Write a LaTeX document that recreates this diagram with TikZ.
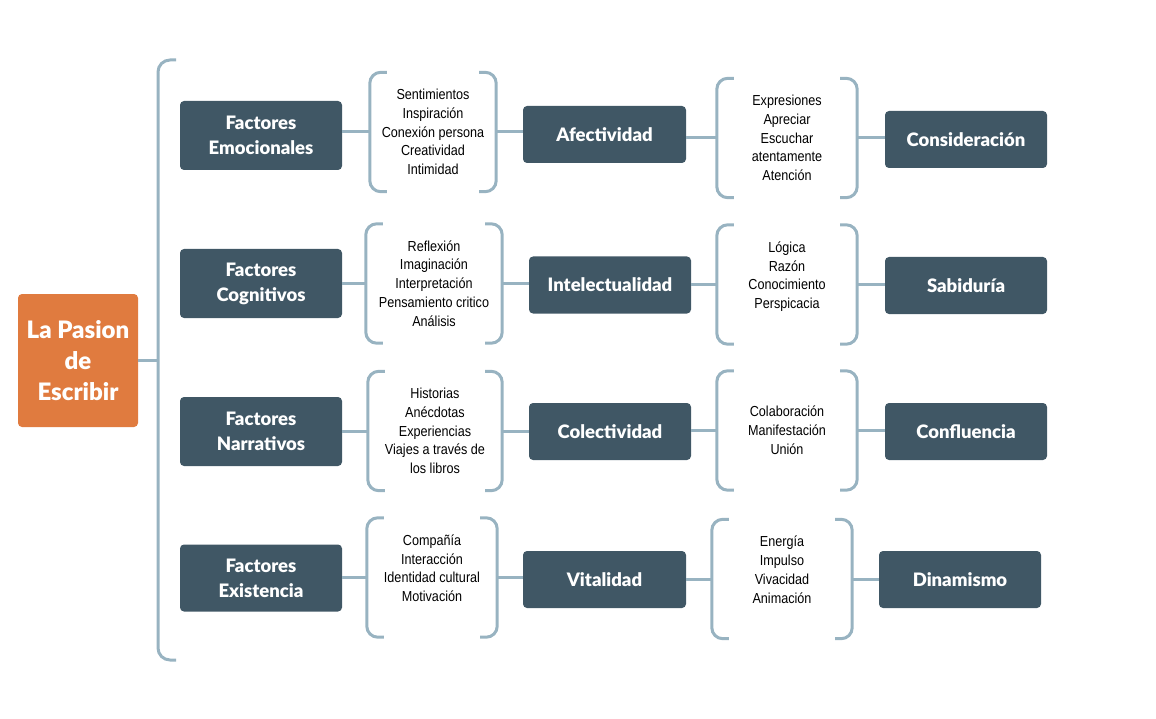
\documentclass[tikz,border=0pt]{standalone}
\usepackage{fontspec}
\setmainfont{Lato}[BoldFont={Lato Black}]
\newfontfamily\itemfont[FakeStretch=0.87]{Liberation Sans}
\usetikzlibrary{positioning}
\definecolor{boxgray}{HTML}{405765}
\definecolor{rootorange}{HTML}{E07B3F}
\definecolor{linkblue}{HTML}{98B3C1}
\tikzset{
	link/.style={draw=linkblue, line width=3pt},
	rootbox/.style={fill=rootorange, text=white, rounded corners=4pt, minimum width=120pt, minimum height=133pt, align=center, font=\bfseries\fontsize{24}{31}\selectfont},
	titlebox/.style={fill=boxgray, text=white, rounded corners=4pt, minimum width=162pt, minimum height=57pt, align=center, font=\bfseries\fontsize{18.5}{25}\selectfont},
	itemlist/.style={minimum height=119pt, inner sep=0pt, align=center, font=\itemfont\fontsize{14.5}{18.8}\selectfont}
}
\newcommand{\drawparens}[1]{%
	\draw[link, rounded corners=11pt] ([xshift=17pt]#1.north west) -- (#1.north west) -- (#1.south west) -- ([xshift=17pt]#1.south west);
	\draw[link, rounded corners=11pt] ([xshift=-17pt]#1.north east) -- (#1.north east) -- (#1.south east) -- ([xshift=-17pt]#1.south east);
}
\begin{document}
\begin{tikzpicture}[x=1pt, y=-1pt]
	\useasboundingbox (0,0) rectangle (1156,719);
	% root and the big brace
	\node[rootbox] (root) at (78,360.5) {La Pasion\\de\\Escribir};
	\coordinate (bracetop) at (158,60);
	\coordinate (bracebot) at (158,660);
	\draw[link, rounded corners=12pt] ([xshift=18pt]bracetop) -- (bracetop) -- (bracebot) -- ([xshift=18pt]bracebot);
	\draw[link] (root.east) -- (root.east -| bracetop);
	% factores
	\node[titlebox, minimum height=69pt] (fac1) at (261,135.5) {Factores\\Emocionales};
	\node[titlebox, minimum height=69pt] (fac2) at (261,283.5) {Factores\\Cognitivos};
	\node[titlebox, minimum height=69pt] (fac3) at (261,431.5) {Factores\\Narrativos};
	\node[titlebox, minimum height=67pt] (fac4) at (261,578) {Factores\\Existencia};
	% first lists
	\node[itemlist, minimum width=126pt] (lista1) at (433,132) {Sentimientos\\Inspiración\\Conexión persona\\Creatividad\\Intimidad};
	\node[itemlist, minimum width=136pt] (lista2) at (434,283.5) {Reflexión\\Imaginación\\Interpretación\\Pensamiento critico\\Análisis};
	\node[itemlist, minimum width=134pt] (lista3) at (435,431) {Historias\\Anécdotas\\Experiencias\\Viajes a través de\\los libros};
	\node[itemlist, minimum width=130pt] (lista4) at (432,577.5) {Compañía\\Interacción\\Identidad cultural\\Motivación\\\mbox{}};
	% middle boxes
	\node[titlebox, minimum width=163pt] (mid1) at (604.5,134.5) {Afectividad};
	\node[titlebox] (mid2) at (610,285) {Intelectualidad};
	\node[titlebox] (mid3) at (610,431.5) {Colectividad};
	\node[titlebox, minimum width=163pt] (mid4) at (604.5,579.5) {Vitalidad};
	% second lists
	\node[itemlist, minimum width=140pt] (listb1) at (787,138) {Expresiones\\Apreciar\\Escuchar\\atentamente\\Atención};
	\node[itemlist, minimum width=140pt] (listb2) at (787,284.5) {Lógica\\Razón\\Conocimiento\\Perspicacia\\\mbox{}};
	\node[itemlist, minimum width=140pt] (listb3) at (787,430.5) {Colaboración\\Manifestación\\Unión};
	\node[itemlist, minimum width=140pt] (listb4) at (782,579) {Energía\\Impulso\\Vivacidad\\Animación\\\mbox{}};
	% results
	\node[titlebox] (res1) at (966,139.5) {Consideración};
	\node[titlebox] (res2) at (966,285.5) {Sabiduría};
	\node[titlebox] (res3) at (966,431.5) {Confluencia};
	\node[titlebox] (res4) at (960,579.5) {Dinamismo};
	% brackets and connectors
	\foreach \i in {1,...,4}{
		\drawparens{lista\i}
		\drawparens{listb\i}
		\draw[link] (fac\i.east |- lista\i.west) -- (lista\i.west);
		\draw[link] (lista\i.east) -- (lista\i.east -| mid\i.west);
		\draw[link] (mid\i.east |- listb\i.west) -- (listb\i.west);
		\draw[link] (listb\i.east) -- (listb\i.east -| res\i.west);
	}
\end{tikzpicture}
\end{document}
